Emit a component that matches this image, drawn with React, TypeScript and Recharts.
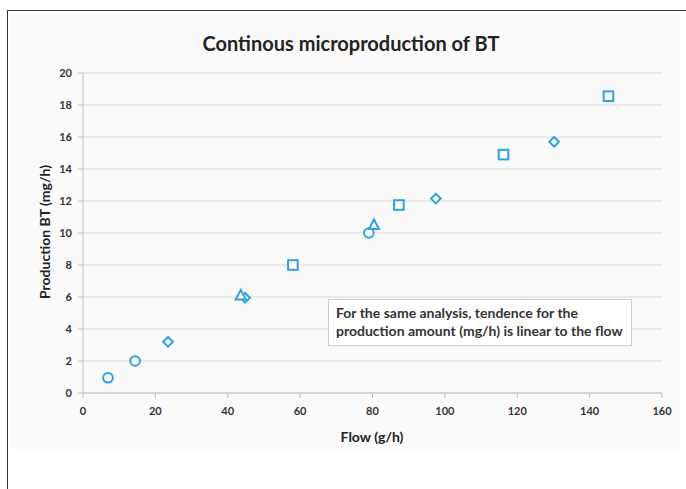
import React from 'react';
import { ScatterChart, Scatter, XAxis, YAxis, CartesianGrid } from 'recharts';

// Measured points, one array per marker shape
const circlePoints = [
   { x: 6.9, y: 0.95 },
   { x: 14.4, y: 2.0 },
   { x: 79.0, y: 10.0 },
];
const diamondPoints = [
   { x: 23.5, y: 3.2 },
   { x: 44.8, y: 5.95 },
   { x: 97.5, y: 12.15 },
   { x: 130.2, y: 15.7 },
];
const trianglePoints = [
   { x: 43.6, y: 6.1 },
   { x: 80.4, y: 10.5 },
];
const squarePoints = [
   { x: 58.0, y: 8.0 },
   { x: 87.3, y: 11.75 },
   { x: 116.2, y: 14.9 },
   { x: 145.2, y: 18.55 },
];

const xTicks = [0, 20, 40, 60, 80, 100, 120, 140, 160];
const yTicks = [0, 2, 4, 6, 8, 10, 12, 14, 16, 18, 20];

const BLUE = '#2aa2dc';
const FONT = 'Lato, "Open Sans", sans-serif';

const CircleMark = (p: any) => (
   <circle cx={p.cx} cy={p.cy} r={4.8} fill="#fff" stroke={BLUE} strokeWidth={2} />
);
const SquareMark = (p: any) => (
   <rect x={p.cx - 4.8} y={p.cy - 4.8} width={9.6} height={9.6} fill="#fff" stroke={BLUE} strokeWidth={2} />
);
const DiamondMark = (p: any) => (
   <polygon
      points={`${p.cx},${p.cy - 4.8} ${p.cx + 4.8},${p.cy} ${p.cx},${p.cy + 4.8} ${p.cx - 4.8},${p.cy}`}
      fill="#fff"
      stroke={BLUE}
      strokeWidth={2}
   />
);
const TriangleMark = (p: any) => (
   <polygon
      points={`${p.cx},${p.cy - 5.5} ${p.cx + 5},${p.cy + 4} ${p.cx - 5},${p.cy + 4}`}
      fill="#fff"
      stroke={BLUE}
      strokeWidth={2}
   />
);

const tickStyle = { fontSize: 11, fontWeight: 700, fill: '#333', fontFamily: FONT };

export default function App() {
   return (
      <div style={{ position: 'absolute', left: 0, top: 0, width: 686, height: 489, background: '#fff', overflow: 'hidden' }}>
         {/* outer frame */}
         <div
            style={{
               position: 'absolute',
               left: 7,
               top: 10,
               width: 700,
               height: 500,
               borderTop: '1.5px solid #333',
               borderLeft: '1.5px solid #333',
            }}
         />
         {/* chart panel */}
         <div style={{ position: 'absolute', left: 10, top: 13, width: 670, height: 436, background: '#fafafa' }} />

         <div style={{ position: 'absolute', left: 0, top: 0 }}>
            <ScatterChart width={686} height={489} margin={{ top: 73, right: 24, bottom: 66, left: 53 }}>
               <CartesianGrid horizontal vertical={false} stroke="#d9d9d9" />
               <XAxis
                  type="number"
                  dataKey="x"
                  domain={[0, 160]}
                  ticks={xTicks}
                  height={30}
                  tick={tickStyle}
                  tickSize={5}
                  tickMargin={9}
                  stroke="#bfbfbf"
               />
               <YAxis
                  type="number"
                  dataKey="y"
                  domain={[0, 20]}
                  ticks={yTicks}
                  width={30}
                  tick={tickStyle}
                  tickSize={5}
                  tickMargin={6}
                  stroke="#bfbfbf"
               />
               <Scatter data={circlePoints} shape={CircleMark} isAnimationActive={false} />
               <Scatter data={diamondPoints} shape={DiamondMark} isAnimationActive={false} />
               <Scatter data={trianglePoints} shape={TriangleMark} isAnimationActive={false} />
               <Scatter data={squarePoints} shape={SquareMark} isAnimationActive={false} />
            </ScatterChart>
         </div>

         <div
            style={{
               position: 'absolute',
               left: 0,
               width: 702,
               top: 29,
               textAlign: 'center',
               fontFamily: FONT,
               fontWeight: 700,
               fontSize: 20,
               color: '#222',
               lineHeight: '28px',
            }}
         >
            Continous microproduction of BT
         </div>

         <div
            style={{
               position: 'absolute',
               left: 297,
               width: 150,
               top: 428,
               textAlign: 'center',
               fontFamily: FONT,
               fontWeight: 700,
               fontSize: 14,
               color: '#222',
            }}
         >
            Flow (g/h)
         </div>

         <div
            style={{
               position: 'absolute',
               left: 45 - 80,
               top: 232 - 10,
               width: 160,
               height: 20,
               lineHeight: '20px',
               textAlign: 'center',
               transform: 'rotate(-90deg)',
               fontFamily: FONT,
               fontWeight: 700,
               fontSize: 14,
               color: '#222',
            }}
         >
            Production BT (mg/h)
         </div>

         <div
            style={{
               position: 'absolute',
               left: 328,
               top: 299,
               width: 304,
               height: 47,
               boxSizing: 'border-box',
               border: '1px solid #ccc',
               background: '#fff',
               padding: '4px 7px',
               fontFamily: FONT,
               fontWeight: 700,
               fontSize: 14,
               lineHeight: '18px',
               color: '#333',
               whiteSpace: 'nowrap',
            }}
         >
            For the same analysis, tendence for the
            <br />
            production amount (mg/h) is linear to the flow
         </div>
      </div>
   );
}
